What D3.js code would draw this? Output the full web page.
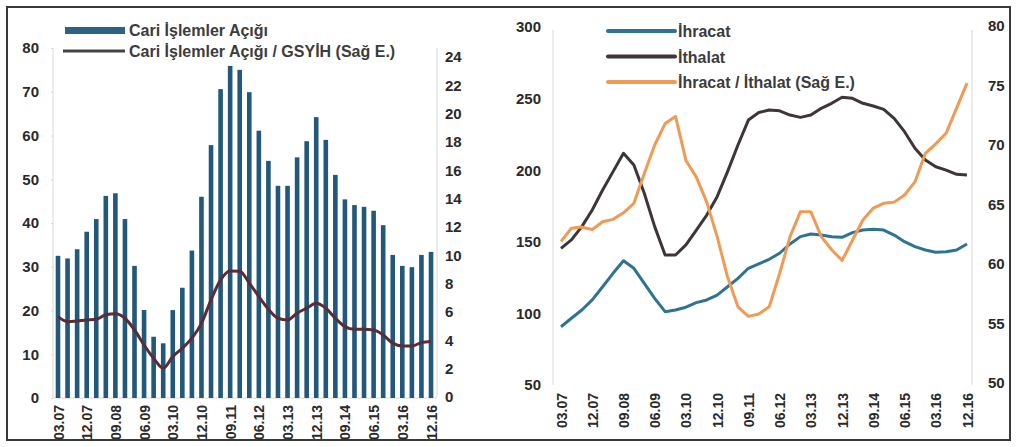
<!DOCTYPE html>
<html lang="tr">
<head>
<meta charset="utf-8">
<title>Cari İşlemler Açığı / Dış Ticaret</title>
<style>
  html, body { margin: 0; padding: 0; background: #fff; }
  svg { display: block; font-family: 'Liberation Sans', Arial, sans-serif; }
  .tick text { font-size: 15px; font-weight: bold; fill: #2a2a2a; }
  .xlab .tick text { font-size: 14px; }
  .legend text { font-size: 16px; font-weight: bold; fill: #3c3c3c; }
  .axis path, .axis line { stroke: #d8d8d8; }
</style>
</head>
<body>
<svg width="1016" height="447"></svg>
<script src="https://d3js.org/d3.v7.min.js"></script>
<script>
// quarters 03.07 .. 12.16
var quarters = ['03.07','06.07','09.07','12.07','03.08','06.08','09.08','12.08',
  '03.09','06.09','09.09','12.09','03.10','06.10','09.10','12.10',
  '03.11','06.11','09.11','12.11','03.12','06.12','09.12','12.12',
  '03.13','06.13','09.13','12.13','03.14','06.14','09.14','12.14',
  '03.15','06.15','09.15','12.15','03.16','06.16','09.16','12.16'];
var xTickLabels = ['03.07','12.07','09.08','06.09','03.10','12.10','09.11','06.12',
  '03.13','12.13','09.14','06.15','03.16','12.16'];

// left panel
var cariAcik = [32.5,31.9,34.0,38.0,40.9,46.2,46.8,40.9,30.2,20.1,14.0,12.5,20.1,25.2,33.7,46.0,
  57.8,70.6,75.9,75.0,69.9,61.1,54.2,48.5,48.5,55.0,58.7,64.2,59.0,51.0,45.4,44.1,
  43.7,42.8,39.5,32.7,30.2,29.9,32.7,33.4];
var cariGsyih = [5.67,5.32,5.37,5.44,5.49,5.8,5.87,5.56,4.73,3.67,2.73,2.03,2.85,3.44,4.15,5.2,
  6.86,8.27,8.9,8.88,8.04,7.09,6.2,5.56,5.44,5.92,6.27,6.62,6.27,5.56,4.97,4.78,
  4.78,4.73,4.38,3.8,3.6,3.6,3.84,3.91];
var leftTicksL = [0,10,20,30,40,50,60,70,80];
var leftTicksR = [0,2,4,6,8,10,12,14,16,18,20,22,24];

// right panel
var ihracat = [90.7,96.6,102.4,109.4,118.6,128,136.8,131.5,121,110.5,101.2,102.4,104.3,107.5,109.4,112.8,
  118.6,124.5,131.5,134.6,137.8,142,148.5,153.6,155.4,154.7,153.6,153.1,156.4,158.2,158.7,158.2,
  154.7,150.1,146.6,144.3,142.7,143.1,144.3,148.5];
var ithalat = [145.4,151.3,160.6,172.2,186.2,199,211.8,203.6,183.9,160.6,140.8,140.8,147.8,158.2,168.7,181.5,
  199,217.6,235,240.3,242,241.5,238.5,236.9,238.5,243.2,246.7,250.9,250.2,246.7,244.8,242.5,
  236.2,226.9,215.3,207.1,202.4,200.1,197.1,196.6];
var oran = [61.9,63.0,63.1,62.9,63.55,63.75,64.3,65.1,67.6,70.0,71.8,72.4,68.7,67.3,65.2,62.3,
  58.9,56.4,55.6,55.8,56.4,59.2,62.3,64.4,64.4,62.3,61.2,60.3,62.0,63.7,64.7,65.1,
  65.2,65.8,66.9,69.3,70.1,71.0,73.1,75.2];
var rightTicksL = [50,100,150,200,250,300];
var rightTicksR = [50,55,60,65,70,75,80];

var svg = d3.select('svg');

// frame
svg.append('rect')
  .attr('x', 7).attr('y', 7).attr('width', 1003).attr('height', 433)
  .attr('fill', 'none').attr('stroke', '#3a3a3a').attr('stroke-width', 2);

function bottomLabels(g, x, yPos) {
  var ax = g.append('g').attr('class', 'axis xlab')
    .attr('transform', `translate(0, ${yPos})`)
    .call(d3.axisBottom(x).tickValues(xTickLabels).tickSize(0));
  ax.select('.domain').remove();
  ax.selectAll('text')
    .attr('text-anchor', 'end')
    .attr('transform', 'rotate(-90)')
    .attr('x', -5).attr('y', 0).attr('dy', '0.36em');
}

// ---------- left chart ----------
var xL = d3.scalePoint().domain(quarters).range([58, 431]);
var yL = d3.scaleLinear().domain([0, 80]).range([398, 48]);
var yR = d3.scaleLinear().domain([0, 24]).range([397, 57]);

var gl = svg.append('g');

gl.append('g').attr('class', 'axis')
  .attr('transform', 'translate(53,0)')
  .call(d3.axisLeft(yL).tickValues(leftTicksL).tickSize(2).tickPadding(12))
  .select('.domain').attr('d', 'M0,398V48');

gl.append('g').attr('class', 'axis')
  .attr('transform', 'translate(437,0)')
  .call(d3.axisRight(yR).tickValues(leftTicksR).tickSize(0).tickPadding(8))
  .select('.domain').attr('d', 'M0,397V48');

gl.append('line').attr('x1', 53).attr('x2', 437).attr('y1', 398).attr('y2', 398)
  .attr('stroke', '#d8d8d8');

gl.selectAll('rect.bar')
  .data(cariAcik)
  .enter().append('rect')
  .attr('class', 'bar')
  .attr('x', (d, i) => xL(quarters[i]) - 2.3)
  .attr('y', d => yL(d))
  .attr('width', 4.6)
  .attr('height', d => yL(0) - yL(d))
  .attr('fill', '#22587a');

gl.append('path')
  .datum(cariGsyih)
  .attr('fill', 'none')
  .attr('stroke', '#5a2c34')
  .attr('stroke-width', 3)
  .attr('d', d3.line().x((d, i) => xL(quarters[i])).y(d => yR(d)).curve(d3.curveMonotoneX));

bottomLabels(gl, xL, 400);

var legL = gl.append('g').attr('class', 'legend');
legL.append('rect').attr('x', 65).attr('y', 27).attr('width', 60).attr('height', 7).attr('fill', '#2c6283');
legL.append('text').attr('x', 129).attr('y', 36).text('Cari İşlemler Açığı');
legL.append('line').attr('x1', 63).attr('x2', 125).attr('y1', 51).attr('y2', 51)
  .attr('stroke', '#444').attr('stroke-width', 3);
legL.append('text').attr('x', 129).attr('y', 57).text('Cari İşlemler Açığı / GSYİH (Sağ E.)');

// ---------- right chart ----------
var xR = d3.scalePoint().domain(quarters).range([561, 967]);
var y2L = d3.scaleLinear().domain([50, 300]).range([385, 27]);
var y2R = d3.scaleLinear().domain([50, 80]).range([383, 26]);

var gr = svg.append('g');

gr.append('g').attr('class', 'axis')
  .attr('transform', 'translate(553,0)')
  .call(d3.axisLeft(y2L).tickValues(rightTicksL).tickSize(0).tickPadding(12))
  .select('.domain').attr('d', 'M0,385V30');

gr.append('g').attr('class', 'axis')
  .attr('transform', 'translate(972,0)')
  .call(d3.axisRight(y2R).tickValues(rightTicksR).tickSize(0).tickPadding(16))
  .select('.domain').attr('d', 'M0,385V30');

var series = [
  { name: 'İhracat', values: ihracat, y: y2L, color: '#2f7392' },
  { name: 'İthalat', values: ithalat, y: y2L, color: '#3e3538' },
  { name: 'İhracat / İthalat (Sağ E.)', values: oran, y: y2R, color: '#ef9b55' }
];

series.forEach(function (s) {
  gr.append('path')
    .datum(s.values)
    .attr('fill', 'none')
    .attr('stroke', s.color)
    .attr('stroke-width', 3)
    .attr('stroke-linejoin', 'round')
    .attr('d', d3.line().x((d, i) => xR(quarters[i])).y(d => s.y(d)));
});

bottomLabels(gr, xR, 388);

var legR = gr.append('g').attr('class', 'legend');
series.forEach(function (s, i) {
  legR.append('line').attr('x1', 608).attr('x2', 675)
    .attr('y1', 31 + i * 25.5).attr('y2', 31 + i * 25.5)
    .attr('stroke', s.color).attr('stroke-width', 4).attr('stroke-linecap', 'round');
  legR.append('text').attr('x', 678).attr('y', 37 + i * 25.5).text(s.name);
});
</script>
</body>
</html>
